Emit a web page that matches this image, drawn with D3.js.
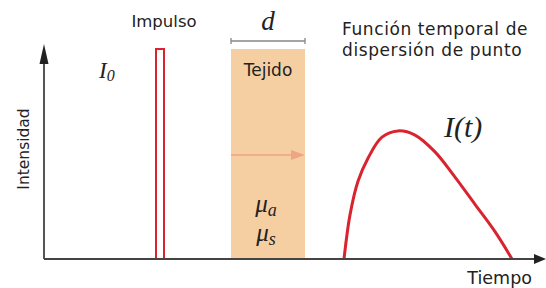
<!DOCTYPE html>
<html>
  <head>
    <meta charset="UTF-8" />
    <title>Función temporal de dispersión de punto</title>
    <style>
      body { margin: 0; background: #fff; }
      text { font-family: 'DejaVu Sans', sans-serif; fill: #222; }
      .math { font-family: 'Liberation Serif', serif; font-style: italic; }
    </style>
  </head>
  <body>
    <svg width="546" height="288"></svg>
    <script src="https://cdnjs.cloudflare.com/ajax/libs/d3/7.8.5/d3.min.js"></script>
    <script>
      // curve of the temporal point spread function (time, relative intensity)
      const curveTime = [60, 61.2, 62.8, 64.8, 67.6, 70.8, 74.2, 78.2, 82.2, 86.2, 90.2, 93.6];
      const curveIntensity = [0, 0.21, 0.37, 0.48, 0.58, 0.61, 0.59, 0.51, 0.39, 0.26, 0.13, 0];
      // incident impulse: [start, end] in time, and its height
      const impulseTime = [22.4, 24];
      const impulseHeight = 1.0;
      // tissue slab: [start, end] and height
      const tissueTime = [37.4, 52.2];
      const tissueHeight = 1.0;

      const svg = d3.select('svg');

      const x = d3.scaleLinear().domain([0, 100]).range([44, 544]);
      const y = d3.scaleLinear().domain([0, 1]).range([259, 49]);

      const axisColor = '#444';
      const red = '#d9232e';

      // tissue
      svg.append('rect')
        .attr('x', x(tissueTime[0]))
        .attr('y', y(tissueHeight))
        .attr('width', x(tissueTime[1]) - x(tissueTime[0]))
        .attr('height', y(0) - y(tissueHeight))
        .attr('fill', '#f5cfa2');

      // arrow through tissue
      const midT = (tissueTime[0] + tissueTime[1]) / 2;
      svg.append('line')
        .attr('x1', x(tissueTime[0]))
        .attr('x2', x(tissueTime[1]) - 10)
        .attr('y1', 155).attr('y2', 155)
        .attr('stroke', '#eea585').attr('stroke-width', 1.5);
      svg.append('path')
        .attr('d', `M${x(tissueTime[1]) - 14},150 L${x(tissueTime[1])},155 L${x(tissueTime[1]) - 14},160 Z`)
        .attr('fill', '#eea585');

      // d bracket
      svg.append('path')
        .attr('d', `M${x(tissueTime[0])},38 v6 M${x(tissueTime[0])},41 H${x(tissueTime[1])} M${x(tissueTime[1])},38 v6`)
        .attr('stroke', '#888').attr('stroke-width', 1.3).attr('fill', 'none');
      svg.append('text').attr('class', 'math')
        .attr('x', x(midT)).attr('y', 30).attr('text-anchor', 'middle')
        .attr('font-size', 27).text('d');

      svg.append('text')
        .attr('x', x(midT)).attr('y', 76).attr('text-anchor', 'middle')
        .attr('font-size', 17).text('Tejido');

      [['a', 212], ['s', 241]].forEach(([sub, yy]) => {
        const t = svg.append('text').attr('class', 'math')
          .attr('font-size', 25)
          .attr('x', x(midT) - 2).attr('y', yy).attr('text-anchor', 'middle');
        t.append('tspan').text('μ');
        t.append('tspan').attr('font-size', 18).attr('dy', 4).text(sub);
      });

      // impulse
      svg.append('path')
        .attr('d', `M${x(impulseTime[0])},${y(0)} V${y(impulseHeight)} H${x(impulseTime[1])} V${y(0)}`)
        .attr('stroke', red).attr('stroke-width', 2).attr('fill', 'none');

      // TPSF curve
      const pts = curveTime.map((t, i) => [t, curveIntensity[i]]);
      svg.append('path')
        .datum(pts)
        .attr('d', d3.line().x(d => x(d[0])).y(d => y(d[1])).curve(d3.curveCatmullRom))
        .attr('stroke', red).attr('stroke-width', 3).attr('fill', 'none');

      // axes
      svg.append('path')
        .attr('d', `M44,${y(0)} H536 M44,${y(0)} V62`)
        .attr('stroke', axisColor).attr('stroke-width', 1.8).attr('fill', 'none');
      svg.append('path')
        .attr('d', `M546,${y(0)} L534,${y(0) - 5} L534,${y(0) + 5} Z`)
        .attr('fill', '#222');
      svg.append('path')
        .attr('d', 'M44,44 L39.5,64 L48.5,64 Z')
        .attr('fill', '#222');

      // labels
      svg.append('text')
        .attr('x', 164).attr('y', 27).attr('text-anchor', 'middle')
        .attr('font-size', 16.5).text('Impulso');

      const fn = svg.append('text').attr('font-size', 17).attr('letter-spacing', 0.6);
      fn.append('tspan').attr('x', 342).attr('y', 35).text('Función temporal de');
      fn.append('tspan').attr('x', 342).attr('y', 56).text('dispersión de punto');

      svg.append('text')
        .attr('transform', 'translate(29,149) rotate(-90)')
        .attr('text-anchor', 'middle').attr('font-size', 15.5).text('Intensidad');

      svg.append('text')
        .attr('x', 532).attr('y', 284).attr('text-anchor', 'end')
        .attr('font-size', 17.5).text('Tiempo');

      const i0 = svg.append('text').attr('class', 'math')
        .attr('x', 99).attr('y', 78).attr('font-size', 23);
      i0.append('tspan').text('I');
      i0.append('tspan').attr('font-size', 16).attr('dy', 3).text('0');

      svg.append('text').attr('class', 'math')
        .attr('x', 444).attr('y', 137).attr('font-size', 30).text('I(t)');
    </script>
  </body>
</html>
